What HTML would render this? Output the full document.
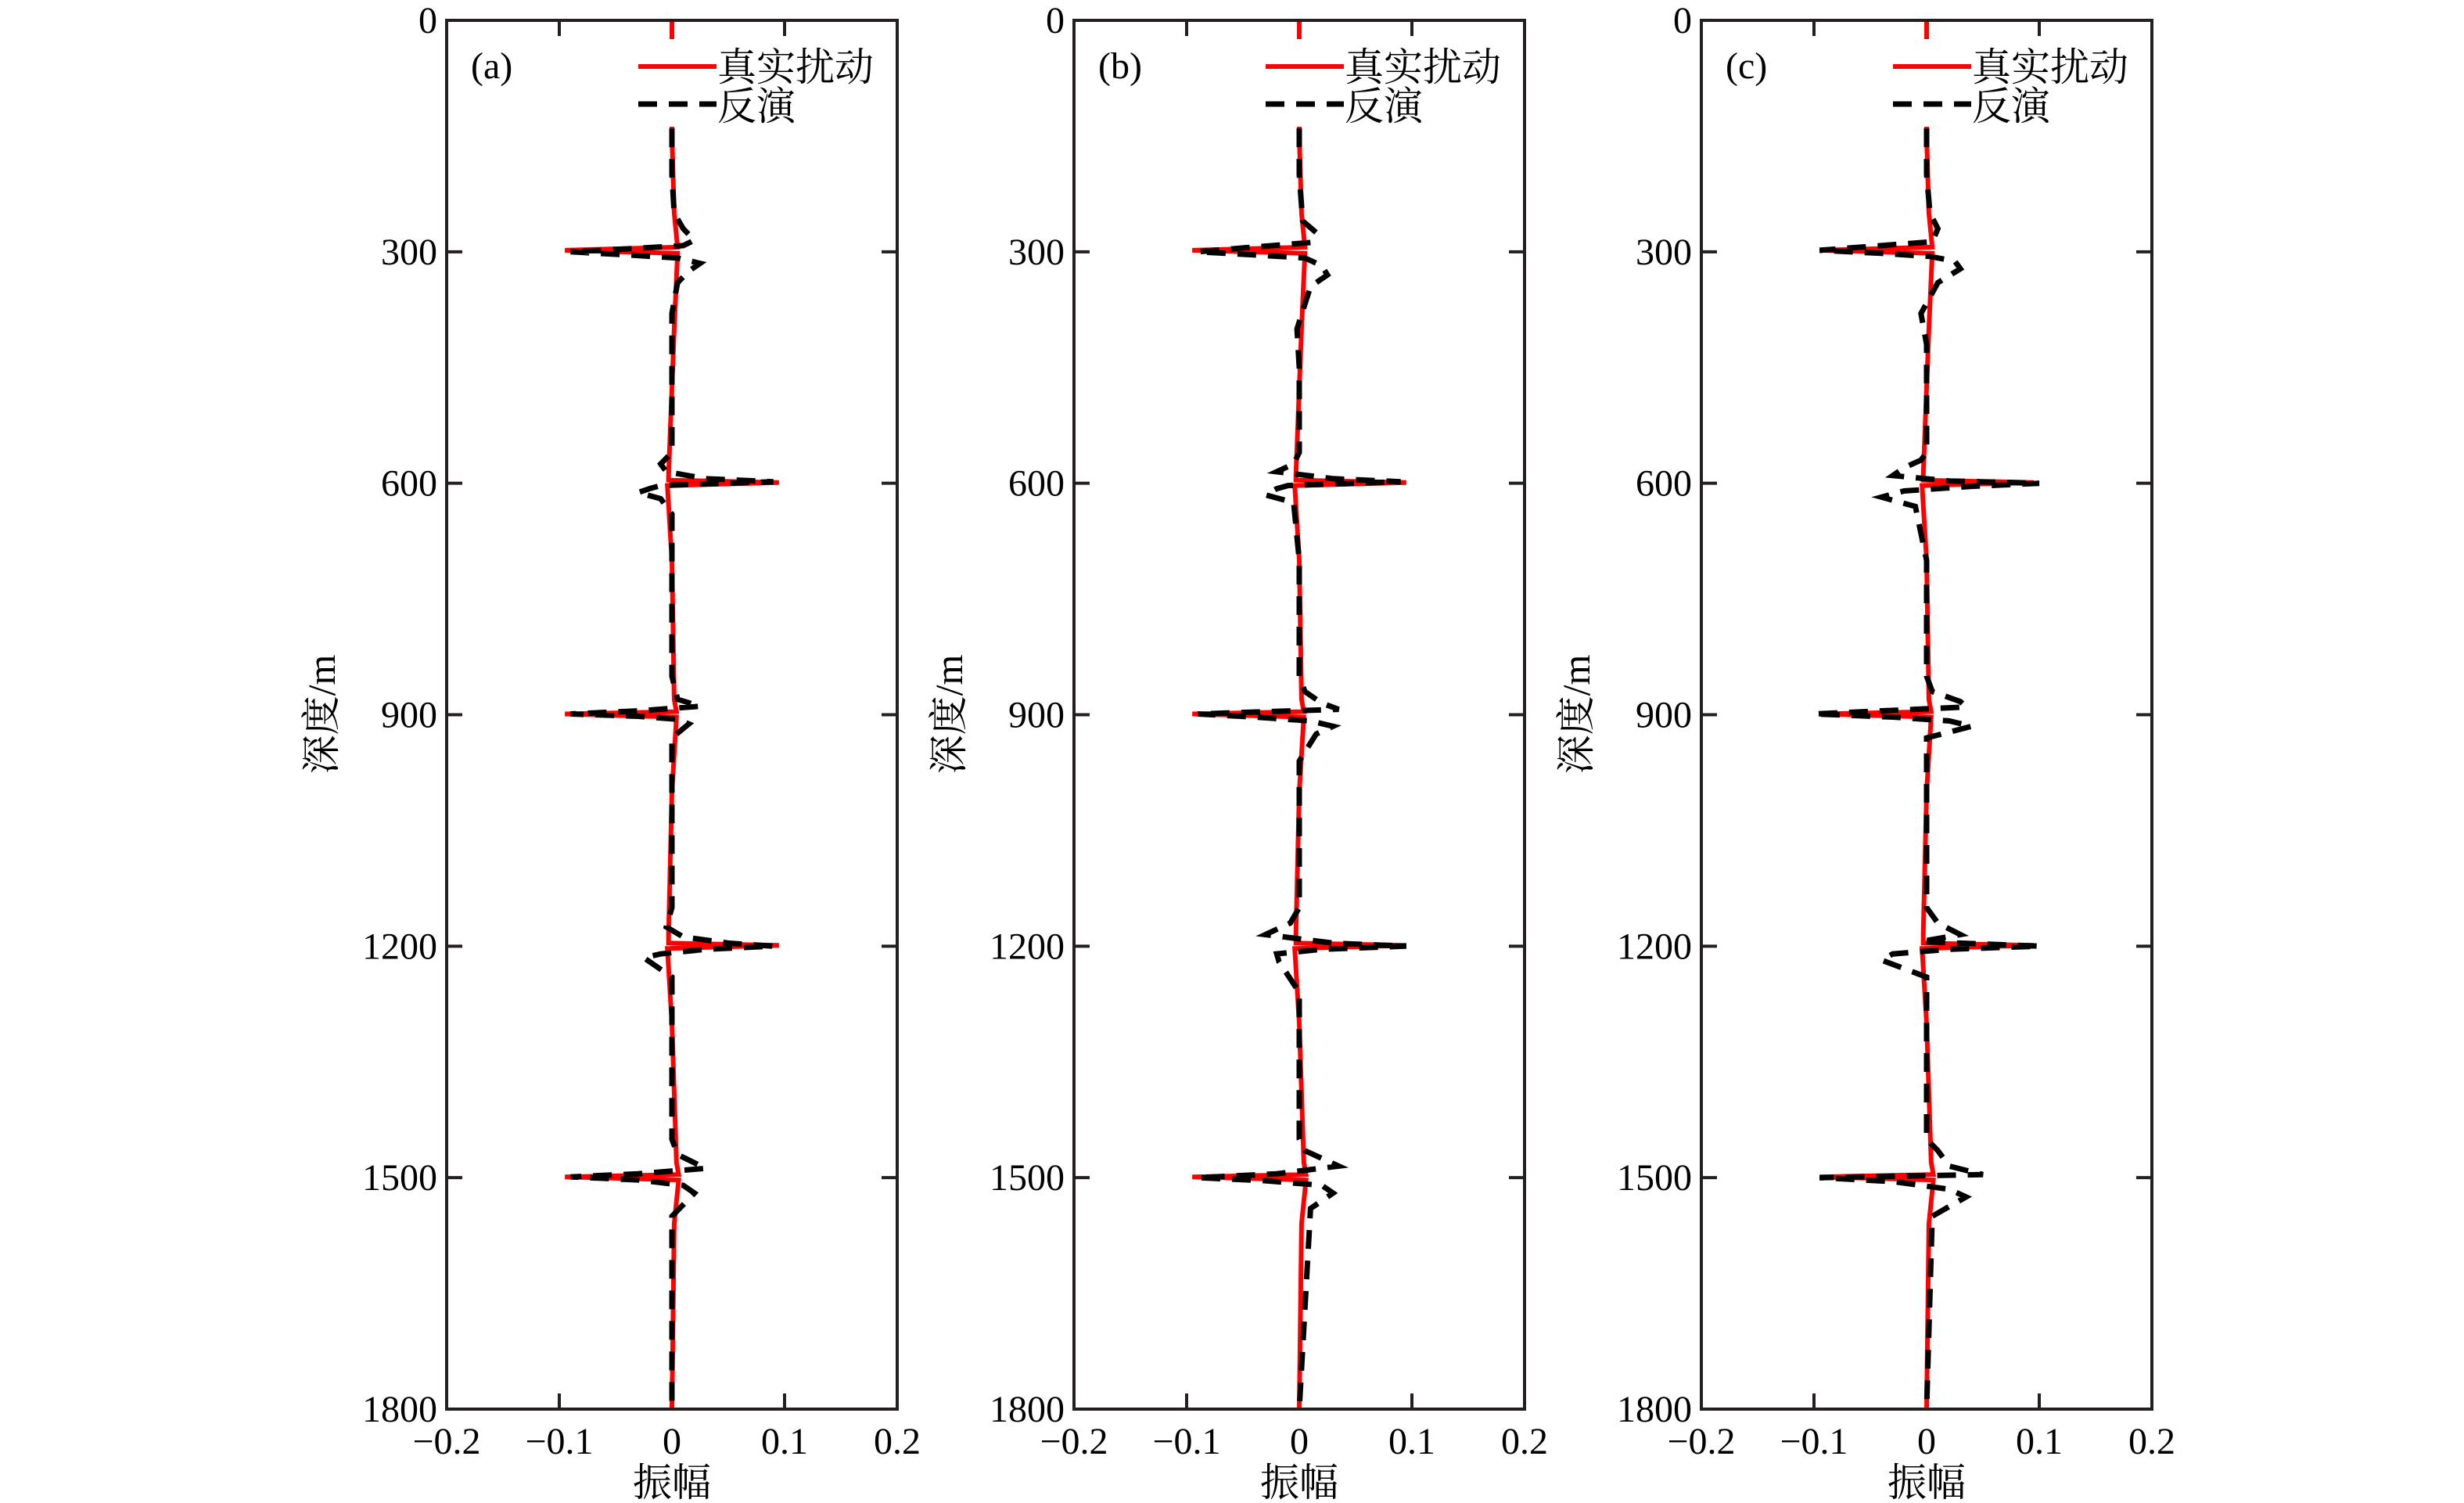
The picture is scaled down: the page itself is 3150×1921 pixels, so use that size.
<!DOCTYPE html>
<html><head><meta charset="utf-8"><style>
html,body{margin:0;padding:0;background:#fff;}
svg{display:block;}
text{font-family:"Liberation Serif","Noto Serif CJK SC","Noto Sans CJK SC",serif;fill:#000;}
</style></head><body>
<svg id="chart" width="3150" height="1921" viewBox="0 0 3150 1921"></svg>
<script>
// ---- data ----
const panelLabels = ["(a)", "(b)", "(c)"];
const xTicks = [-0.2, -0.1, 0, 0.1, 0.2];
const xTickLabels = ["\u22120.2", "\u22120.1", "0", "0.1", "0.2"];
const yTicks = [0, 300, 600, 900, 1200, 1500, 1800];
const yTickLabels = ["0", "300", "600", "900", "1200", "1500", "1800"];

const trueDepth = [0,150,250,294,298,302,400,590,596,599,603,700,880,896,899,903,1000,1185,1196,1199,1203,1300,1480,1496,1499,1503,1560,1800];
const trueAmp   = [0,0,0.002,0.005,-0.095,0.005,0.002,-0.003,-0.003,0.095,-0.004,0,0.002,0.004,-0.095,0.004,0,-0.003,-0.003,0.095,-0.004,0,0.004,0.006,-0.095,0.006,0.002,0];

const invDepthA = [140,200,250,270,285,292,297,300,304,308,315,325,340,380,450,560,575,585,594,598,600,603,607,612,620,640,700,850,880,889,895,899,902,906,912,930,1150,1175,1188,1196,1200,1204,1210,1215,1240,1450,1470,1488,1495,1499,1503,1510,1520,1550,1800];
const invAmpA   = [0,0,0.002,0.01,0.02,0.01,-0.05,-0.09,-0.04,0.005,0.025,0.015,0.005,0,0,0,-0.01,-0.005,0.03,0.09,0.05,-0.01,-0.02,-0.03,-0.01,0,0,0,0.005,0.025,-0.03,-0.09,-0.03,0.005,0.015,0,0,-0.005,0.01,0.05,0.09,0.03,-0.01,-0.025,0,0,0.005,0.03,-0.03,-0.09,-0.03,0.01,0.02,0,0];
const invDepthB = [140,200,260,275,288,295,300,304,308,318,330,345,400,450,560,575,585,594,598,600,603,607,615,625,700,850,870,885,893,899,903,908,915,925,960,1150,1170,1185,1196,1200,1204,1210,1220,1260,1450,1465,1485,1495,1500,1504,1510,1520,1540,1800];
const invAmpB   = [0,0,0.003,0.015,0.01,-0.05,-0.09,-0.04,0.005,0.02,0.025,0.01,-0.002,0,0,-0.005,-0.02,0.03,0.09,0.05,-0.01,-0.02,-0.03,-0.005,0,0,0.005,0.02,0.035,-0.09,-0.04,0.01,0.03,0.015,0,0,-0.008,-0.03,0.03,0.095,0.02,-0.02,-0.018,0,0,0.005,0.035,-0.02,-0.09,-0.03,0.02,0.03,0.01,0];
const invDepthC = [140,200,250,270,287,293,298,302,306,312,322,340,380,420,560,570,580,590,597,600,604,610,618,630,700,850,870,883,890,899,903,908,915,930,1150,1170,1185,1194,1200,1204,1210,1218,1240,1450,1465,1485,1496,1500,1505,1515,1525,1550,1800];
const invAmpC   = [0,0,0.003,0.01,0.005,-0.05,-0.095,-0.04,0.003,0.025,0.03,0.01,-0.005,0,0,-0.005,-0.02,-0.03,0.02,0.1,0.04,-0.02,-0.04,-0.01,0,0,0.005,0.03,0.035,-0.1,-0.03,0.02,0.04,0,0,0.01,0.03,-0.005,0.1,0.02,-0.03,-0.04,0,0,0.01,0.02,0.05,-0.095,-0.03,0.02,0.035,0.005,0];
const invDepths = [invDepthA, invDepthB, invDepthC];
const invAmps = [invAmpA, invAmpB, invAmpC];

// ---- layout ----
const NS = "http://www.w3.org/2000/svg";
const svg = document.getElementById("chart");
const panelLeft = [571, 1373, 2175];
const panelW = 576, top0 = 26, bottom0 = 1801;
function mk(tag, attrs, parent) {
  const e = document.createElementNS(NS, tag);
  for (const k in attrs) e.setAttribute(k, attrs[k]);
  (parent || svg).appendChild(e);
  return e;
}
function yScale(d) { return top0 + (d / 1800) * (bottom0 - top0); }

panelLabels.forEach((lab, p) => {
  const L = panelLeft[p], R = L + panelW;
  const xScale = v => L + (v + 0.2) / 0.4 * panelW;
  const g = mk("g", {});
  
  

  // ticks
  xTicks.forEach((t, i) => {
    const x = xScale(t);
    if (i > 0 && i < xTicks.length - 1) {
      const t1 = mk("line", {x1:x, x2:x, y1:bottom0, y2:bottom0-20, stroke:"#231f20", "stroke-width":4}, g);
      
      
      const t2 = mk("line", {x1:x, x2:x, y1:top0, y2:top0+20, stroke:"#231f20", "stroke-width":4}, g);
      
      
    }
    const tx = mk("text", {x:x, y:1858, "font-size":48, "text-anchor":"middle"}, g);
    tx.textContent = xTickLabels[i];
    
    
  });
  yTicks.forEach((t, i) => {
    const y = yScale(t);
    if (i > 0 && i < yTicks.length - 1) {
      const t1 = mk("line", {x1:L, x2:L+20, y1:y, y2:y, stroke:"#231f20", "stroke-width":4}, g);
      
      
      const t2 = mk("line", {x1:R, x2:R-20, y1:y, y2:y, stroke:"#231f20", "stroke-width":4}, g);
      
      
    }
    const ty = mk("text", {x:L-12, y:y+16, "font-size":48, "text-anchor":"end"}, g);
    ty.textContent = yTickLabels[i];
    
    
  });

  // true series
  const tp = trueDepth.map((d, i) => xScale(trueAmp[i]).toFixed(1) + "," + yScale(d).toFixed(1)).join(" ");
  const tl = mk("polyline", {points:tp, fill:"none", stroke:"#ff0000", "stroke-width":6, "stroke-linejoin":"miter", "stroke-miterlimit":3}, g);
  
  
  // inversion series
  const ip = invDepths[p].map((d, i) => xScale(invAmps[p][i]).toFixed(1) + "," + yScale(d).toFixed(1)).join(" ");
  const il = mk("polyline", {points:ip, fill:"none", stroke:"#000", "stroke-width":7, "stroke-dasharray":"24,15"}, g);
  
  

  // axes box
  const box = mk("rect", {x:L, y:top0, width:panelW, height:bottom0-top0, fill:"none", stroke:"#231f20", "stroke-width":4}, g);
  
  

  // legend
  const lg = mk("g", {}, g);
  
  
  mk("rect", {x:L+235, y:50, width:330, height:112, fill:"#fff"}, lg);
  const l1 = mk("line", {x1:L+245, x2:L+345, y1:85, y2:85, stroke:"#ff0000", "stroke-width":6}, lg);
  
  
  const l2 = mk("line", {x1:L+245, x2:L+345, y1:133, y2:133, stroke:"#000", "stroke-width":7, "stroke-dasharray":"24,15"}, lg);
  
  
  const lt1 = mk("text", {x:L+346, y:103, "font-size":50}, lg);
  lt1.textContent = "真实扰动";
  
  
  const lt2 = mk("text", {x:L+346, y:153, "font-size":50}, lg);
  lt2.textContent = "反演";
  
  

  const pl = mk("text", {x:L+31, y:100, "font-size":48}, g);
  pl.textContent = lab;
  
  

  const xl = mk("text", {x:L+panelW/2, y:1912, "font-size":50, "text-anchor":"middle"}, g);
  xl.textContent = "振幅";
  
  

  const yl = mk("text", {x:0, y:0, "font-size":50, "text-anchor":"middle", transform:"translate(" + (L-143) + ",913) rotate(-90)"}, g);
  yl.textContent = "深度/m";
  
  
});
</script>
</body></html>
